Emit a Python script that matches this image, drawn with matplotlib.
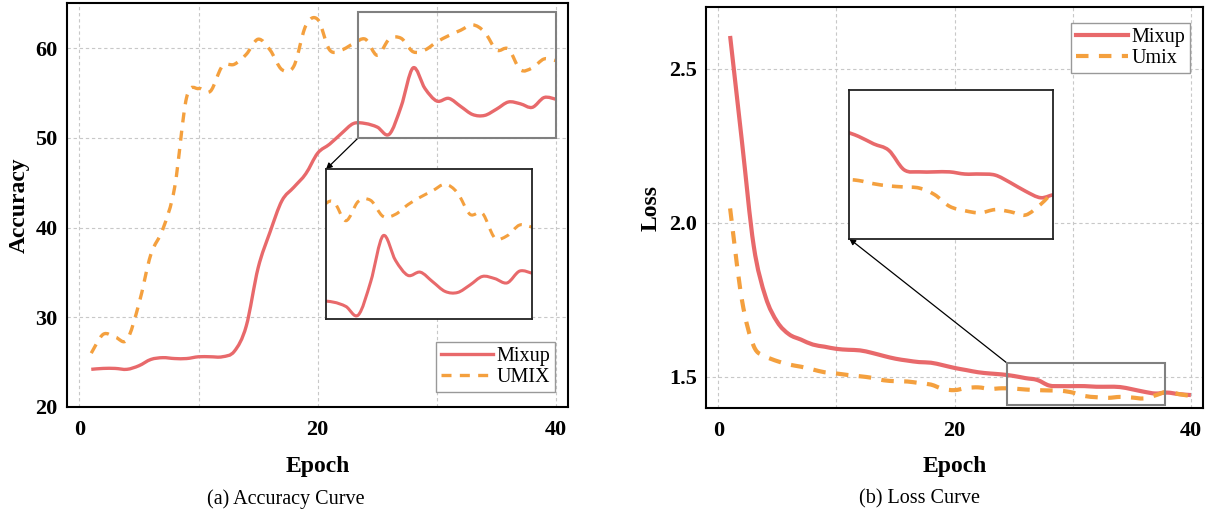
import matplotlib
matplotlib.use("Agg")
import matplotlib.pyplot as plt
from matplotlib.patches import Rectangle, PathPatch
from matplotlib.path import Path
from matplotlib.lines import Line2D
import numpy as np

# ---------------- data ----------------
epochs = list(range(1, 41))

acc_mixup = [24.2, 24.3, 24.3, 24.2, 24.6, 25.3, 25.5, 25.4, 25.4, 25.6,
             25.6, 25.6, 26.2, 29.0, 35.5, 39.5, 43.0, 44.5, 46.0, 48.3,
             49.3, 50.5, 51.6, 51.6, 51.2, 50.4, 53.5, 57.8, 55.5, 54.1,
             54.4, 53.5, 52.6, 52.5, 53.2, 54.0, 53.8, 53.4, 54.5, 54.3]

acc_umix = [26.0, 28.1, 27.8, 27.5, 31.5, 37.0, 39.8, 44.5, 54.5, 55.5,
            55.2, 58.0, 58.2, 59.3, 61.0, 59.8, 57.6, 58.0, 62.5, 63.2,
            59.8, 59.8, 60.5, 61.0, 59.2, 61.0, 61.1, 59.6, 59.8, 60.7,
            61.4, 62.0, 62.6, 61.8, 59.8, 59.9, 57.6, 57.8, 58.8, 58.6]

loss_mixup = [2.607, 2.265, 1.925, 1.760, 1.678, 1.638, 1.621, 1.605, 1.598, 1.591,
              1.588, 1.586, 1.578, 1.568, 1.559, 1.553, 1.548, 1.546, 1.538, 1.529,
              1.522, 1.515, 1.511, 1.508, 1.503, 1.496, 1.490, 1.472, 1.470, 1.470,
              1.470, 1.468, 1.468, 1.467, 1.460, 1.452, 1.446, 1.449, 1.444, 1.441]

loss_umix = [2.047, 1.750, 1.600, 1.567, 1.551, 1.540, 1.533, 1.524, 1.515, 1.511,
             1.506, 1.502, 1.497, 1.489, 1.486, 1.485, 1.480, 1.475, 1.461, 1.457,
             1.464, 1.466, 1.461, 1.463, 1.462, 1.459, 1.457, 1.456, 1.455, 1.449,
             1.438, 1.434, 1.432, 1.435, 1.433, 1.430, 1.440, 1.452, 1.444, 1.438]

acc_labels = ["Mixup", "UMIX"]
loss_labels = ["Mixup", "Umix"]
xticks = [0, 20, 40]
acc_yticks = [20, 30, 40, 50, 60]
loss_yticks = [1.5, 2.0, 2.5]

# ---------------- style ----------------
C_MIX = "#E8696B"
C_UMIX = "#F4A03E"
DASH = (0, (3.0, 2.5))
SERIF = ["Liberation Serif", "DejaVu Serif"]
plt.rcParams["font.family"] = SERIF

W, H = 1206, 513
fig = plt.figure(figsize=(W / 100, H / 100), dpi=100)


def px_axes(l, t, r, b):
    return [l / W, 1 - b / H, (r - l) / W, (b - t) / H]


def smooth_line(ax, x, y, **kw):
    """Draw a smooth (Catmull-Rom style Bezier) curve through the data points."""
    p = np.column_stack([x, y]).astype(float)
    ext = np.vstack([p[0], p, p[-1]])
    verts = [tuple(p[0])]
    codes = [Path.MOVETO]
    for i in range(len(p) - 1):
        p0, p1, p2, p3 = ext[i], ext[i + 1], ext[i + 2], ext[i + 3]
        c1 = p1 + (p2 - p0) / 6.0
        c2 = p2 - (p3 - p1) / 6.0
        verts += [tuple(c1), tuple(c2), tuple(p2)]
        codes += [Path.CURVE4] * 3
    patch = PathPatch(Path(verts, codes), fill=False, capstyle="butt",
                      joinstyle="round", **kw)
    ax.add_patch(patch)
    return patch


def style_axes(ax, yticks, fmt):
    for s in ax.spines.values():
        s.set_linewidth(1.5)
        s.set_color("black")
    ax.set_xticks(xticks)
    ax.set_xticks([10, 30], minor=True)
    ax.set_yticks(yticks)
    ax.set_yticklabels([fmt.format(v) for v in yticks])
    ax.tick_params(which="both", length=0)
    ax.tick_params(axis="x", pad=9.5)
    ax.tick_params(axis="y", pad=6.5)
    for lab in ax.get_xticklabels() + ax.get_yticklabels():
        lab.set_fontsize(16)
        lab.set_fontweight("bold")
    ax.grid(True, which="both", color="#c8c8c8", linestyle=(0, (3, 2.5)), linewidth=0.8)
    ax.set_axisbelow(True)


def legend(ax, labels, lw, **kw):
    handles = [Line2D([], [], color=C_MIX, lw=lw),
               Line2D([], [], color=C_UMIX, lw=lw, linestyle=DASH)]
    leg = ax.legend(handles, labels, bbox_transform=fig.transFigure, borderaxespad=0,
                    fontsize=14.5, handlelength=2.6, handletextpad=0.15, borderpad=0.25,
                    labelspacing=0.08, fancybox=False, framealpha=1,
                    edgecolor="#999999", **kw)
    leg.get_frame().set_linewidth(1.0)
    return leg


# ---------------- (a) accuracy ----------------
ax1 = fig.add_axes(px_axes(66.7, 3.3, 568, 407))
smooth_line(ax1, epochs, acc_mixup, edgecolor=C_MIX, lw=2.4)
smooth_line(ax1, epochs, acc_umix, edgecolor=C_UMIX, lw=2.4, linestyle=DASH)
ax1.set_xlim(-1.06, 41.0)
ax1.set_ylim(20, 65)
style_axes(ax1, acc_yticks, "{:.0f}")

ax1.add_patch(Rectangle((23.4, 50), 40 - 23.4, 14, fill=False, edgecolor="#808080",
                        lw=1.5, zorder=5))
legend(ax1, acc_labels, 2.4, loc="lower right",
       bbox_to_anchor=(555.3 / W, 1 - 391.7 / H))

ins1 = fig.add_axes(px_axes(326, 169.3, 532, 319.3))
smooth_line(ins1, epochs, acc_mixup, edgecolor=C_MIX, lw=2.2)
smooth_line(ins1, epochs, acc_umix, edgecolor=C_UMIX, lw=2.2, linestyle=DASH)
ins1.set_xlim(23.4, 40)
ins1.set_ylim(50, 64)
ins1.set_xticks([])
ins1.set_yticks([])
for s in ins1.spines.values():
    s.set_linewidth(1.3)
    s.set_color("#222222")
ax1.annotate("", xy=(0, 1), xycoords=ins1.transAxes, xytext=(23.4, 50),
             textcoords="data",
             arrowprops=dict(arrowstyle="-|>", color="black", lw=0.9,
                             mutation_scale=9, shrinkA=0, shrinkB=0))

# ---------------- (b) loss ----------------
ax2 = fig.add_axes(px_axes(706, 7.3, 1202.7, 408.3))
smooth_line(ax2, epochs, loss_mixup, edgecolor=C_MIX, lw=3.0)
smooth_line(ax2, epochs, loss_umix, edgecolor=C_UMIX, lw=3.0, linestyle=DASH)
ax2.set_xlim(-1.04, 41.0)
ax2.set_ylim(1.398, 2.70)
style_axes(ax2, loss_yticks, "{:.1f}")

ax2.add_patch(Rectangle((24.4, 1.408), 37.8 - 24.4, 1.546 - 1.408, fill=False,
                        edgecolor="#808080", lw=1.5, zorder=5))
legend(ax2, loss_labels, 3.0, loc="upper right",
       bbox_to_anchor=(1190 / W, 1 - 23.3 / H))

ins2 = fig.add_axes(px_axes(849.3, 90, 1053, 238.7))
smooth_line(ins2, epochs, loss_mixup, edgecolor=C_MIX, lw=2.6)
smooth_line(ins2, epochs, loss_umix, edgecolor=C_UMIX, lw=2.6, linestyle=DASH)
ins2.set_xlim(24.4, 37.8)
ins2.set_ylim(1.408, 1.546)
ins2.set_xticks([])
ins2.set_yticks([])
for s in ins2.spines.values():
    s.set_linewidth(1.3)
    s.set_color("#222222")
ax2.annotate("", xy=(0, 0), xycoords=ins2.transAxes, xytext=(24.4, 1.546),
             textcoords="data",
             arrowprops=dict(arrowstyle="-|>", color="black", lw=0.9,
                             mutation_scale=9, shrinkA=0, shrinkB=0))

# ---------------- labels & captions ----------------
fig.text(19.7 / W, 1 - 205 / H, "Accuracy", rotation=90, ha="center", va="center",
         fontsize=17, fontweight="bold")
fig.text(651 / W, 1 - 207.8 / H, "Loss", rotation=90, ha="center", va="center",
         fontsize=17, fontweight="bold")
fig.text(317.3 / W, 1 - 466.7 / H, "Epoch", ha="center", va="center",
         fontsize=17, fontweight="bold")
fig.text(954.4 / W, 1 - 466.7 / H, "Epoch", ha="center", va="center",
         fontsize=17, fontweight="bold")
fig.text(286 / W, 1 - 499 / H, "(a) Accuracy Curve", ha="center", va="center",
         fontsize=14.5)
fig.text(919.8 / W, 1 - 499 / H, "(b) Loss Curve", ha="center", va="center",
         fontsize=14.5)

fig.savefig("out.png", dpi=100)
